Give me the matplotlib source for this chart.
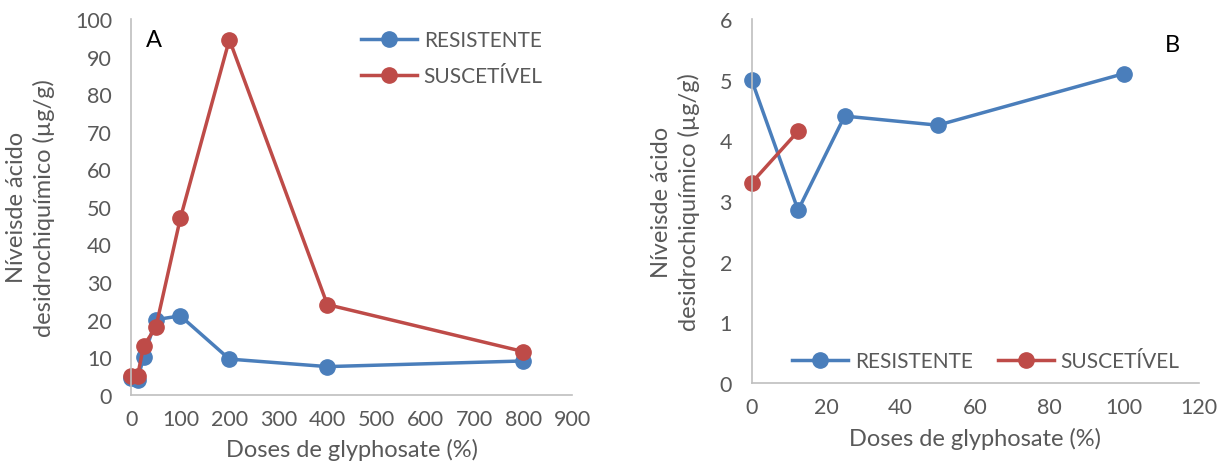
import numpy as np
import matplotlib.pyplot as plt

# Data
doses_a = [0, 12.5, 25, 50, 100, 200, 400, 800]
res_a = [4.5, 4.0, 10.0, 20.0, 21.0, 9.5, 7.5, 9.0]
sus_a = [5.0, 5.0, 13.0, 18.0, 47.0, 94.5, 24.0, 11.5]

doses_b_res = [0, 12.5, 25, 50, 100]
res_b = [5.0, 2.85, 4.4, 4.25, 5.1]
doses_b_sus = [0, 12.5]
sus_b = [3.3, 4.15]

blue = '#4a7ebb'
red = '#be4b48'
grey = '#595959'
spine = '#bfbfbf'

plt.rcParams['font.family'] = ['Lato', 'DejaVu Sans']

fig = plt.figure(figsize=(12.28, 4.64), dpi=100)
ax1 = fig.add_axes([0.107, 0.147, 0.359, 0.810])
ax2 = fig.add_axes([0.612, 0.172, 0.364, 0.785])

ylab = 'Níveisde ácido\ndesidrochiquímico (µg/g)'

def style(ax):
    for s in ['top', 'right']:
        ax.spines[s].set_visible(False)
    for s in ['left', 'bottom']:
        ax.spines[s].set_color(spine)
        ax.spines[s].set_linewidth(1.2)
    ax.tick_params(axis='y', length=0, colors=grey, labelsize=15.5, pad=14)
    ax.tick_params(axis='x', length=0, colors=grey, labelsize=15.5, pad=10)
    ax.set_xlabel('Doses de glyphosate (%)', color=grey, fontsize=17, labelpad=7)
    ax.set_ylabel(ylab, color=grey, fontsize=17, linespacing=1.35, labelpad=14)

# Panel A
ax1.plot(doses_a, res_a, '-o', color=blue, lw=2.5, ms=11, label='RESISTENTE', clip_on=False)
ax1.plot(doses_a, sus_a, '-o', color=red, lw=2.5, ms=11, label='SUSCETÍVEL', clip_on=False)
ax1.set_xlim(0, 900)
ax1.set_ylim(0, 100)
ax1.set_xticks(np.arange(0, 901, 100))
ax1.set_yticks(np.arange(0, 101, 10))
style(ax1)
ax1.text(0.033, 0.945, 'A', transform=ax1.transAxes, fontsize=17, va='center')
leg = ax1.legend(loc='upper left', frameon=False,
                 fontsize=15, handlelength=2.7, labelspacing=0.75, handletextpad=0.3,
                 borderpad=0.2, borderaxespad=0)
leg.set_bbox_to_anchor((357 / 1228, 1 - 27 / 464), transform=fig.transFigure)
for t in leg.get_texts():
    t.set_color(grey)

# Panel B
ax2.plot(doses_b_res, res_b, '-o', color=blue, lw=2.5, ms=11, label='RESISTENTE', clip_on=False)
ax2.plot(doses_b_sus, sus_b, '-o', color=red, lw=2.5, ms=11, label='SUSCETÍVEL', clip_on=False)
ax2.set_xlim(0, 120)
ax2.set_ylim(0, 6)
ax2.set_xticks(np.arange(0, 121, 20))
ax2.set_yticks(np.arange(0, 7, 1))
style(ax2)
ax2.text(0.925, 0.93, 'B', transform=ax2.transAxes, fontsize=17, va='center')
leg2 = ax2.legend(loc='center left', ncol=2, frameon=False,
                  fontsize=15, handlelength=2.7, columnspacing=1.2, handletextpad=0.3,
                  borderpad=0.2, borderaxespad=0)
leg2.set_bbox_to_anchor((788 / 1228, 1 - 362 / 464), transform=fig.transFigure)
for t in leg2.get_texts():
    t.set_color(grey)

fig.savefig('out.png', dpi=100)
